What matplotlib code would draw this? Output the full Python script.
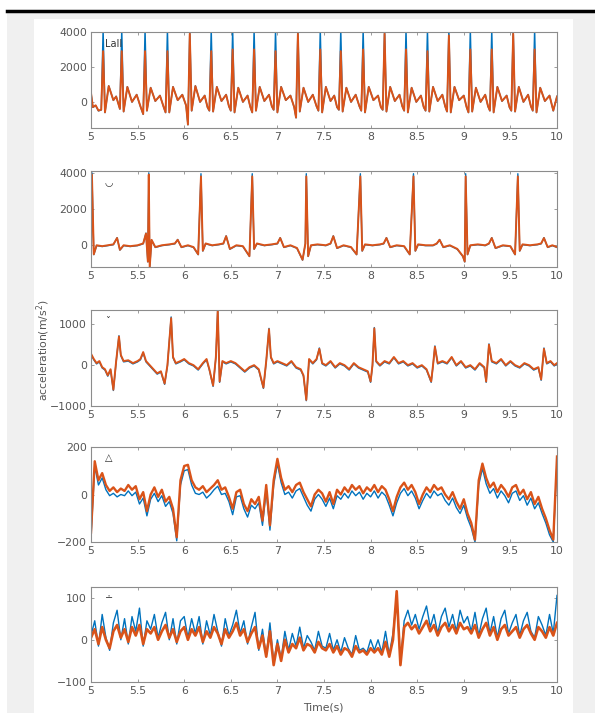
import numpy as np
import matplotlib.pyplot as plt
from matplotlib.patches import Rectangle
from matplotlib.lines import Line2D

BLUE = '#0072BD'
ORANGE = '#D95319'
AXGRAY = '#8c8c8c'
TXT = '#555555'

# ---- panel 1 (fast beats) ----
t1 = [5.00, 5.02, 5.05, 5.08,
      5.11, 5.13, 5.15, 5.19, 5.24, 5.27,
      5.31, 5.33, 5.35, 5.39, 5.44, 5.49, 5.53,
      5.56, 5.58, 5.60, 5.64, 5.69, 5.74, 5.78,
      5.80, 5.82, 5.84, 5.88, 5.93, 5.98, 6.02,
      6.04, 6.06, 6.08, 6.12, 6.17, 6.22, 6.25,
      6.27, 6.29, 6.31, 6.35, 6.40, 6.45, 6.48,
      6.50, 6.52, 6.54, 6.58, 6.63, 6.68, 6.71,
      6.73, 6.75, 6.77, 6.81, 6.86, 6.91, 6.94,
      6.96, 6.98, 7.00, 7.04, 7.09, 7.14, 7.18,
      7.20, 7.22, 7.24, 7.28, 7.33, 7.38, 7.42,
      7.44, 7.46, 7.48, 7.52, 7.57, 7.61, 7.64,
      7.66, 7.68, 7.70, 7.74, 7.79, 7.84, 7.88,
      7.90, 7.92, 7.94, 7.98, 8.03, 8.08, 8.11,
      8.13, 8.15, 8.17, 8.21, 8.26, 8.31, 8.34,
      8.36, 8.38, 8.40, 8.44, 8.49, 8.54, 8.57,
      8.59, 8.61, 8.63, 8.67, 8.72, 8.77, 8.80,
      8.82, 8.84, 8.86, 8.90, 8.95, 9.00, 9.03,
      9.05, 9.07, 9.09, 9.13, 9.18, 9.23, 9.26,
      9.28, 9.30, 9.32, 9.36, 9.41, 9.46, 9.49,
      9.51, 9.53, 9.55, 9.59, 9.64, 9.69, 9.72,
      9.74, 9.76, 9.78, 9.82, 9.87, 9.92, 9.96, 10.00]
o1 = [500, -300, -200, -500,
      -450, 2900, -600, 900, 100, 300,
      -400, 2900, -550, 850, 0, 400, -250,
      -700, 2900, -500, 800, 50, 350, -300,
      -600, 2900, -600, 850, 100, 400, -200,
      -1300, 3900, -500, 900, 0, 350, -300,
      -500, 2900, -550, 850, 50, 400, -250,
      -500, 3000, -600, 800, 0, 350, -300,
      -600, 3000, -500, 850, 50, 400, -250,
      -450, 2900, -600, 850, 100, 350, -300,
      -900, 3900, -550, 800, 0, 400, -250,
      -500, 3000, -600, 850, 50, 350, -300,
      -450, 2900, -550, 800, 0, 400, -250,
      -500, 3000, -600, 850, 100, 350, -300,
      -450, 3900, -550, 850, 50, 400, -250,
      -500, 3000, -600, 800, 0, 350, -300,
      -500, 2900, -550, 850, 50, 400, -250,
      -550, 3800, -600, 850, 100, 350, -300,
      -600, 3000, -550, 800, 0, 400, -250,
      -500, 3000, -600, 850, 50, 350, -300,
      -500, 3900, -550, 850, 0, 400, -250,
      -500, 3000, -600, 800, 50, 350, -500, 300]
b1 = [520, -320, -220, -520,
      -470, 4200, -620, 920, 80, 320,
      -420, 4200, -570, 870, -20, 420, -270,
      -720, 4200, -520, 820, 30, 370, -320,
      -620, 4200, -620, 870, 80, 420, -220,
      -1320, 4200, -520, 920, -20, 370, -320,
      -520, 4200, -570, 870, 30, 420, -270,
      -520, 4200, -620, 820, -20, 370, -320,
      -620, 4200, -520, 870, 30, 420, -270,
      -470, 4200, -620, 870, 80, 370, -320,
      -920, 4200, -570, 820, -20, 420, -270,
      -520, 4200, -620, 870, 30, 370, -320,
      -470, 4200, -570, 820, -20, 420, -270,
      -520, 4200, -620, 870, 80, 370, -320,
      -470, 4200, -570, 870, 30, 420, -270,
      -520, 4200, -620, 820, -20, 370, -320,
      -520, 4200, -570, 870, 30, 420, -270,
      -570, 4200, -620, 870, 80, 370, -320,
      -620, 4200, -570, 820, -20, 420, -270,
      -520, 4200, -620, 870, 30, 370, -320,
      -520, 4200, -570, 870, -20, 420, -270,
      -520, 4200, -620, 820, 30, 370, -520, 320]

# ---- panel 2 (slow beats) ----
t2 = [5.00, 5.01, 5.03, 5.06, 5.12, 5.18, 5.24, 5.28, 5.31, 5.35,
      5.42, 5.50, 5.56, 5.59, 5.61, 5.62, 5.63, 5.65, 5.69, 5.76,
      5.84, 5.90, 5.93, 5.97, 6.04, 6.10, 6.15, 6.18, 6.20, 6.23,
      6.30, 6.37, 6.42, 6.45, 6.49, 6.56, 6.63, 6.70, 6.73, 6.75,
      6.78, 6.86, 6.94, 7.00, 7.03, 7.07, 7.14, 7.21, 7.27, 7.30,
      7.31, 7.33, 7.36, 7.43, 7.52, 7.57, 7.60, 7.64, 7.71, 7.79,
      7.85, 7.89, 7.91, 7.94, 8.02, 8.10, 8.14, 8.17, 8.21, 8.28,
      8.36, 8.42, 8.46, 8.48, 8.51, 8.59, 8.67, 8.71, 8.74, 8.78,
      8.85, 8.93, 8.99, 9.01, 9.02, 9.04, 9.07, 9.15, 9.23, 9.27,
      9.30, 9.34, 9.42, 9.50, 9.55, 9.58, 9.60, 9.63, 9.71, 9.79,
      9.83, 9.86, 9.90, 9.95, 10.00]
o2 = [-600, 3900, -500, 0, -50, 0, 50, 400, -250, 0,
      -50, 0, 100, 650, -900, 3900, -1200, 300, -100, 0,
      50, 100, 300, -100, 0, -100, -500, 3800, -300, 100,
      0, 50, 100, 500, -200, 0, -50, -600, 3800, -200,
      100, 0, 50, 100, 400, -100, 0, -150, -800, 100,
      3800, -600, 0, 50, 0, 100, 500, -150, 0, -100,
      -500, 3800, -300, 50, 0, 50, 100, 400, -100, 0,
      -50, -500, 3800, -300, 50, 0, 0, 100, 300, -100,
      0, -200, -600, -900, 3800, -500, 0, 50, 0, 100,
      400, -150, 0, -50, -500, 3800, -300, 50, 0, 50,
      100, 400, -100, 0, -100]
b2 = [-620, 4000, -520, -20, -70, -20, 30, 420, -270, -20,
      -70, -20, 80, 670, -920, 4000, -1220, 280, -120, -20,
      30, 80, 320, -120, -20, -120, -520, 3950, -320, 80,
      -20, 30, 80, 520, -220, -20, -70, -620, 3950, -220,
      80, -20, 30, 80, 420, -120, -20, -170, -820, 80,
      3950, -620, -20, 30, -20, 80, 520, -170, -20, -120,
      -520, 3950, -320, 30, -20, 30, 80, 420, -120, -20,
      -70, -520, 3950, -320, 30, -20, -20, 80, 320, -120,
      -20, -220, -620, -920, 3950, -520, -20, 30, -20, 80,
      420, -170, -20, -70, -520, 3950, -320, 30, -20, 30,
      80, 420, -120, -20, -120]

# ---- panel 3 ----
t3 = [5.00, 5.03, 5.06, 5.09, 5.12, 5.15, 5.18, 5.21, 5.24, 5.27,
      5.30, 5.32, 5.35, 5.40, 5.45, 5.50, 5.53, 5.56, 5.59, 5.63,
      5.67, 5.71, 5.75, 5.79, 5.82, 5.86, 5.88, 5.91, 5.96, 6.00,
      6.05, 6.10, 6.15, 6.20, 6.24, 6.27, 6.31, 6.34, 6.36, 6.38,
      6.41, 6.45, 6.50, 6.55, 6.60, 6.65, 6.70, 6.75, 6.80, 6.85,
      6.88, 6.91, 6.93, 6.96, 7.00, 7.05, 7.10, 7.15, 7.20, 7.25,
      7.28, 7.31, 7.34, 7.38, 7.42, 7.45, 7.48, 7.52, 7.57, 7.62,
      7.67, 7.72, 7.77, 7.82, 7.87, 7.92, 7.97, 8.00, 8.02, 8.04,
      8.06, 8.10, 8.15, 8.20, 8.25, 8.30, 8.35, 8.40, 8.45, 8.50,
      8.55, 8.60, 8.65, 8.67, 8.69, 8.72, 8.77, 8.82, 8.87, 8.92,
      8.97, 9.02, 9.07, 9.12, 9.17, 9.22, 9.24, 9.27, 9.30, 9.35,
      9.40, 9.45, 9.50, 9.55, 9.60, 9.65, 9.70, 9.75, 9.80, 9.83,
      9.86, 9.89, 9.93, 9.97, 10.00]
o3 = [280, 150, 50, 100, -50, -100, -250, -100, -600, 100,
      700, 250, 100, 120, 50, 100, 150, 320, 100, 0,
      -100, -200, -150, -450, 0, 1150, 200, 50, 100, 150,
      50, 0, -100, 50, 150, -100, -500, 200, 1350, -400,
      100, 50, 100, 50, -50, -150, -50, 0, -100, -550,
      100, 880, 200, 50, 100, 50, 0, 100, -50, -100,
      -250, -850, 150, 50, 150, 400, 50, 0, 100, -50,
      50, 0, -100, 50, -50, -100, -150, -400, 0, 900,
      100, 0, 100, 50, 200, 50, 100, 0, 50, -50,
      0, -100, -400, 0, 450, 50, 100, 50, 200, 0,
      100, -50, 0, -100, 50, -50, -400, 500, 100, 50,
      150, 0, 100, 0, -50, 50, 0, -100, -50, -350,
      400, 50, 100, 0, 50]
b3 = [260, 130, 30, 80, -70, -120, -270, -120, -620, 80,
      720, 230, 80, 100, 30, 80, 130, 300, 80, -20,
      -120, -220, -170, -470, -20, 1180, 180, 30, 80, 130,
      30, -20, -120, 30, 130, -120, -520, 180, 1380, -420,
      80, 30, 80, 30, -70, -170, -70, -20, -120, -570,
      80, 900, 180, 30, 80, 30, -20, 80, -70, -120,
      -270, -870, 130, 30, 130, 420, 30, -20, 80, -70,
      30, -20, -120, 30, -70, -120, -170, -420, -20, 920,
      80, -20, 80, 30, 180, 30, 80, -20, 30, -70,
      -20, -120, -420, -20, 470, 30, 80, 30, 180, -20,
      80, -70, -20, -120, 30, -70, -420, 520, 80, 30,
      130, -20, 80, -20, -70, 30, -20, -120, -70, -370,
      420, 30, 80, -20, 30]

# ---- panel 4 (sampled every 0.04 s from 5 to 10 s) ----
o4 = [-160, 140, 60, 90, 40, 15, 30, 10, 25, 15, 40, 20, 35, -20, 10, -70, 0, 30, -10, 20, -30, -10, -60, -180, 60, 120,
      125, 60, 30, 20, 35, 10, 25, 40, 60, 20, 30, -10, -60, 10, 20, -40, -70, -20, -40, -10, -110, 40, -130, 60, 150,
      70, 20, 35, 10, 40, 50, 10, -20, -50, 0, 20, 5, -30, 10, -40, 20, 0, 30, 10, 40, 20, 35, 5, 30, 15,
      40, 10, 35, 20, -20, -70, -10, 30, 50, 20, 40, 10, -40, 0, 30, 10, 40, 20, 30, 0, -20, 10, -30, -60, -20,
      -80, -120, -190, 60, 130, 70, 30, 50, 10, 40, 20, -10, 30, 40, 0, 20, -20, 10, -40, -10, -60, -100, -150, -190, 160]
b4 = [-180, 120, 40, 70, 20, -5, 5, -10, 0, -5, 15, -5, 10, -40, -15, -90, -20, 5, -30, -5, -50, -30, -80, -195, 40, 100,
      105, 40, 5, 0, 10, -15, 0, 20, 35, 0, 5, -30, -85, -10, -5, -60, -95, -45, -60, -35, -130, 15, -150, 40, 130,
      50, 0, 10, -15, 15, 25, -10, -45, -70, -20, 0, -20, -50, -15, -60, -5, -20, 5, -15, 15, -5, 10, -20, 5, -10,
      15, -15, 10, -5, -45, -90, -35, 5, 25, -5, 15, -15, -60, -25, 5, -15, 15, -5, 5, -25, -45, -15, -55, -80, -45,
      -100, -140, -200, 40, 110, 45, 5, 25, -15, 15, -5, -35, 5, 15, -25, -5, -45, -15, -60, -35, -80, -120, -170, -200, 140]

# ---- panel 5 (sampled every 0.04 s from 5 to 10 s) ----
o5 = [5, 25, -10, 30, 0, -20, 20, 35, 5, 25, -5, 30, 10, 35, -10, 25, 15, 30, 0, 20, 35, 5, 25, -5, 20, 30,
      0, 25, 10, 30, -5, 20, 5, 30, 15, -10, 25, 5, 20, 40, 10, 25, -5, 15, 30, -20, 10, -40, 20, -60, -10,
      -50, 0, -30, -10, -20, 5, -25, -10, -15, -30, -5, -20, -25, -10, -30, -15, -35, -20, -25, -40, -15, -30, -25, -35, -20,
      -30, -20, -35, -5, -40, 0, 115, -60, 30, 40, 25, 35, 15, 30, 45, 20, 35, 10, 30, 40, 20, 35, 15, 40, 25,
      30, 15, 35, 5, 25, 40, 10, 30, 0, 25, 35, 10, 20, 30, 5, 25, 35, 15, 0, 30, 20, 5, 30, 10, 40]
b5 = [10, 45, -15, 60, 5, -25, 40, 70, 0, 50, -10, 55, 20, 75, -15, 45, 25, 60, 5, 40, 65, 0, 50, -10, 45, 55,
      5, 50, 15, 55, -10, 45, 10, 60, 20, -15, 50, 10, 35, 70, 15, 45, -10, 30, 65, -25, 25, -40, 40, -55, 0,
      -45, 20, -25, 15, -15, 30, -20, 10, -5, -25, 20, -15, -20, 15, -25, 0, -30, 5, -20, -35, 10, -25, -20, -30, 0,
      -25, 0, -30, 20, -35, 15, 100, -55, 45, 70, 35, 60, 25, 55, 80, 30, 60, 15, 55, 75, 30, 60, 20, 70, 40,
      55, 20, 65, 10, 50, 75, 15, 55, 5, 50, 70, 15, 40, 60, 10, 45, 65, 20, 5, 55, 35, 10, 60, 15, 105]

t_samp = np.linspace(5, 10, len(o4))

series = [(t1, b1, o1), (t2, b2, o2), (t3, b3, o3), (t_samp, b4, o4), (t_samp, b5, o5)]
ylims = [(-1500, 4000), (-1200, 4100), (-1000, 1350), (-200, 200), (-100, 125)]
yticks = [[0, 2000, 4000], [0, 2000, 4000], [-1000, 0, 1000], [-200, 0, 200], [-100, 0, 100]]
orange_lw = [1.4, 1.4, 1.4, 1.7, 1.9]
marks = ['LaII', '\u25e1', '\u02c7', '\u25b3', '\u2238']
xticks = [5, 5.5, 6, 6.5, 7, 7.5, 8, 8.5, 9, 9.5, 10]
xticklabels = ['5', '5.5', '6', '6.5', '7', '7.5', '8', '8.5', '9', '9.5', '10']

W, H = 595, 713
fig = plt.figure(figsize=(W / 100, H / 100), dpi=100)
fig.patch.set_facecolor('white')

# gray frame, white inner panel, black rule on top
fig.patches.append(Rectangle((7 / W, 0), (W - 7) / W, (H - 12) / H, transform=fig.transFigure,
                             facecolor='#f0f0f0', edgecolor='none', zorder=-3))
fig.patches.append(Rectangle((34 / W, 0), (573 - 34) / W, (H - 19) / H, transform=fig.transFigure,
                             facecolor='white', edgecolor='none', zorder=-2))
fig.lines.append(Line2D([7 / W, 1], [1 - 10.5 / H] * 2, transform=fig.transFigure, color='black', lw=2.5))

boxes = [(32, 128), (171, 267), (310, 406), (447, 542), (587, 682)]
left, right = 91, 557

for (top, bot), (t, b, o), yl, yt, mk, olw in zip(boxes, series, ylims, yticks, marks, orange_lw):
    ax = fig.add_axes([left / W, 1 - bot / H, (right - left) / W, (bot - top) / H])
    ax.plot(t, b, color=BLUE, lw=1.0)
    ax.plot(t, o, color=ORANGE, lw=olw)
    ax.set_xlim(5, 10)
    ax.set_ylim(*yl)
    ax.set_xticks(xticks)
    ax.set_xticklabels(xticklabels)
    ax.set_yticks(yt)
    ax.tick_params(direction='in', length=2.5, width=0.6, top=True, right=True,
                   labelsize=7.8, labelcolor=TXT, colors=AXGRAY, pad=3)
    for s in ax.spines.values():
        s.set_color(AXGRAY)
        s.set_linewidth(0.8)
    ax.text(0.03, 0.88, mk, transform=ax.transAxes, fontsize=7, color='#333333',
            ha='left', va='center')

fig.text(43 / W, 1 - 350 / H, 'acceleration(m/s$^2$)', rotation=90, ha='center', va='center',
         fontsize=7.8, color=TXT)
fig.text(323 / W, 1 - 707 / H, 'Time(s)', ha='center', va='center', fontsize=7.8, color=TXT)

fig.savefig('out.png', dpi=100)
